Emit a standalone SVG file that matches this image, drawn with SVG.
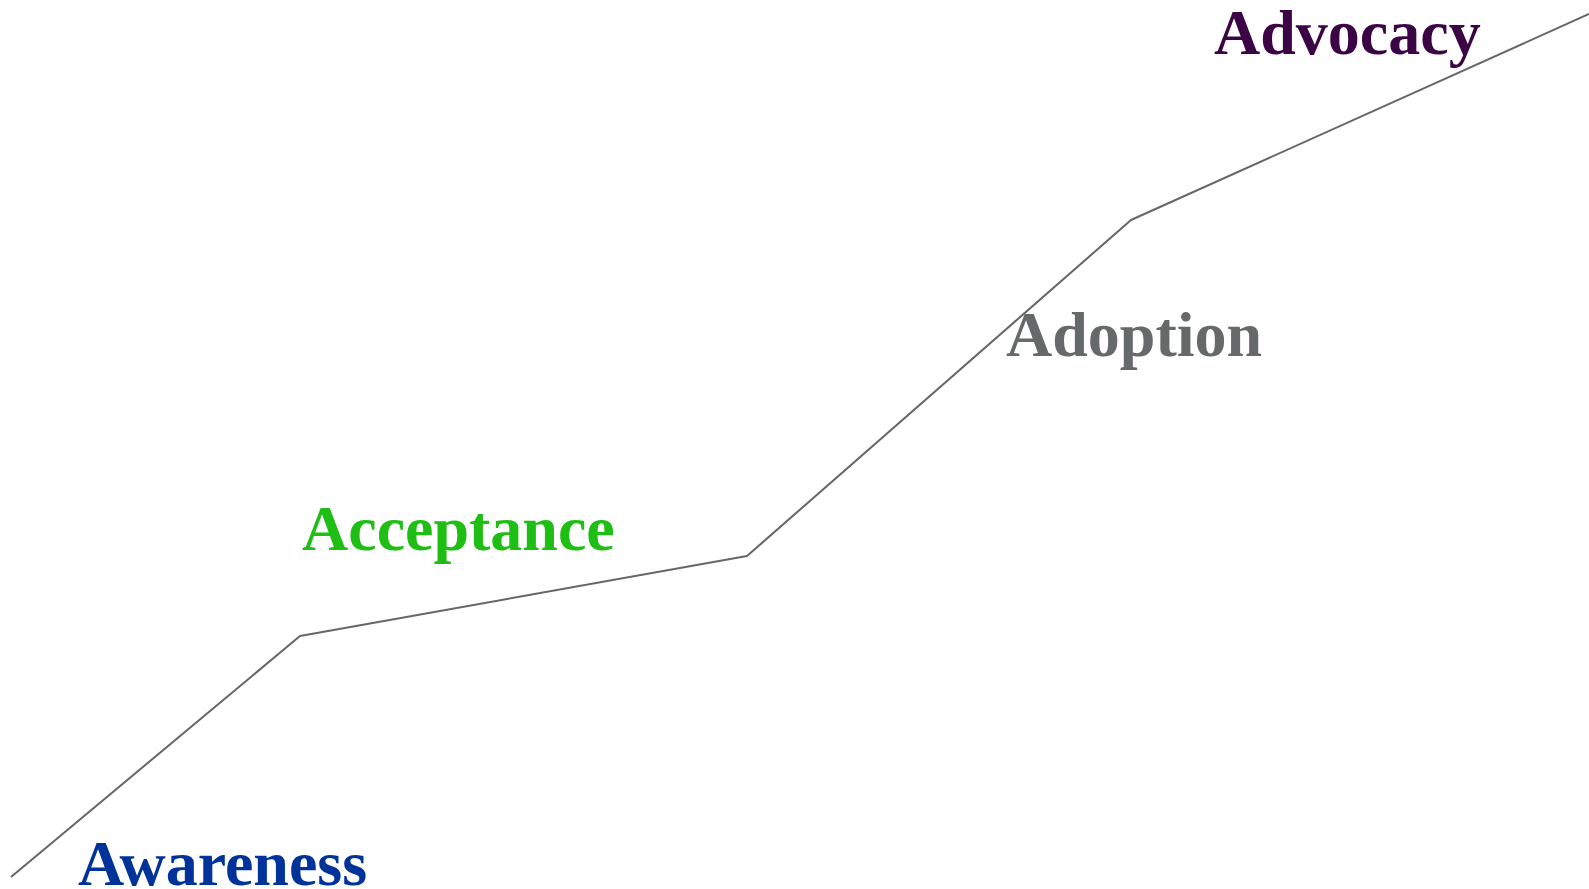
<svg xmlns="http://www.w3.org/2000/svg" width="1589" height="889" viewBox="0 0 1589 889">
<style>
.lbl{font-family:"Liberation Serif","Times New Roman",serif;font-weight:bold;font-size:64px}
.conn{fill:none;stroke:#666666;stroke-width:2;stroke-linejoin:round}
</style>
<rect width="1589" height="889" fill="#ffffff"/>
<g id="connectors">
<polyline class="conn" points="11,877 300,636 747,556 1131,220 1589,14"/>
</g>
<g id="awareness"><text class="lbl" x="78" y="885" fill="#003399">Awareness</text></g>
<g id="acceptance"><text class="lbl" x="302" y="550" fill="#1fbe14">Acceptance</text></g>
<g id="adoption"><text class="lbl" x="1006" y="356" fill="#666969">Adoption</text></g>
<g id="advocacy"><text class="lbl" x="1214" y="54" fill="#3a0445">Advocacy</text></g>
</svg>
